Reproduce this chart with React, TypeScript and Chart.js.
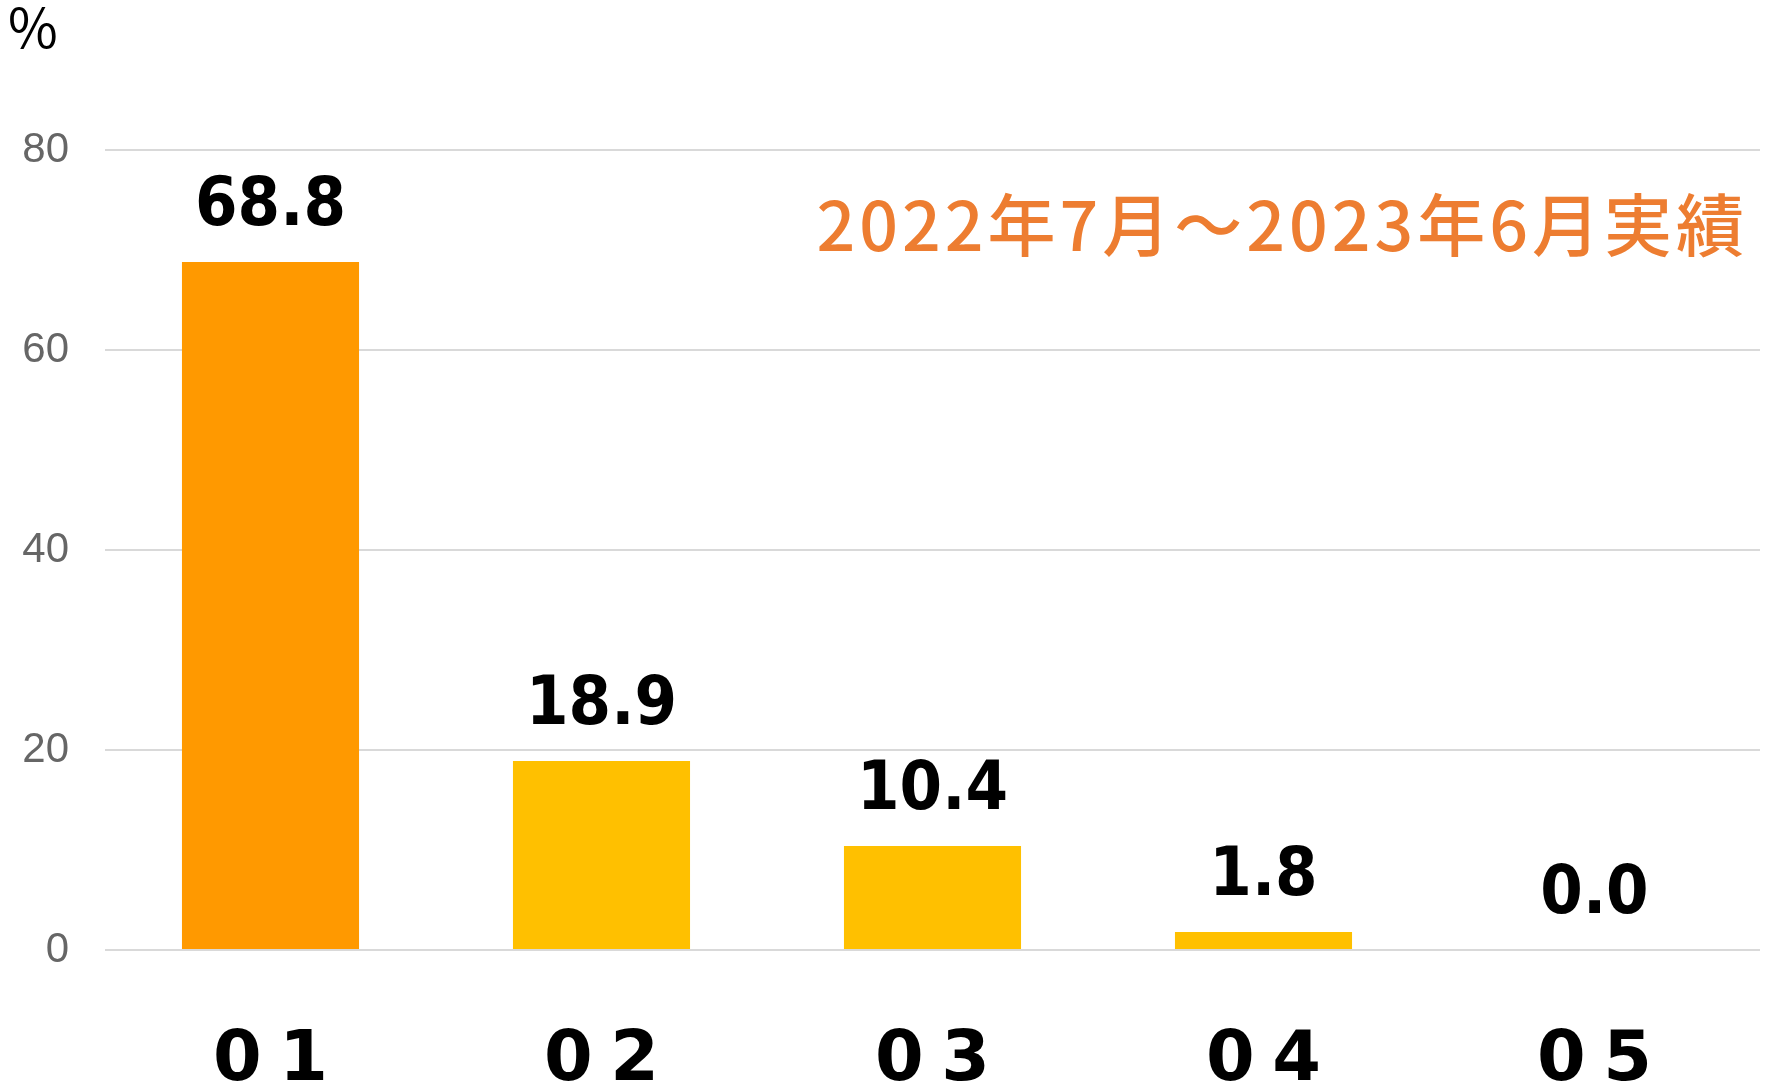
import React, { useEffect, useRef } from "react";
import { Chart, registerables } from "chart.js";

Chart.register(...registerables);

const categories = ["0\u20051", "0\u20052", "0\u20053", "0\u20054", "0\u20055"];
const values = [68.8, 18.9, 10.4, 1.8, 0.0];
const barColors = ["#FF9900", "#FFC000", "#FFC000", "#FFC000", "#FFC000"];
const yTicks = [0, 20, 40, 60, 80];
const unitLabel = "%";
const periodLabel = "2022年7月～2023年6月実績";

const valueLabels = {
  id: "valueLabels",
  afterDatasetsDraw(chart: any) {
    const ctx = chart.ctx;
    const meta = chart.getDatasetMeta(0);
    ctx.save();
    ctx.font = "condensed bold 68px 'DejaVu Sans', sans-serif";
    try {
      (ctx as any).fontStretch = "condensed";
    } catch (e) {}
    ctx.fillStyle = "#000000";
    ctx.textAlign = "center";
    ctx.textBaseline = "alphabetic";
    meta.data.forEach((bar: any, i: number) => {
      ctx.fillText(values[i].toFixed(1), bar.x, bar.y - 37);
    });
    ctx.restore();
  },
};

const headerTexts = {
  id: "headerTexts",
  afterDraw(chart: any) {
    const ctx = chart.ctx;
    ctx.save();
    ctx.fillStyle = "#000000";
    ctx.font = "54px 'Noto Sans CJK JP', 'Noto Sans', sans-serif";
    ctx.textAlign = "left";
    ctx.textBaseline = "alphabetic";
    ctx.fillText(unitLabel, 8, 48);
    ctx.fillStyle = "#ED7D31";
    ctx.font = "500 68px 'Noto Sans CJK JP', sans-serif";
    ctx.textAlign = "right";
    (ctx as any).letterSpacing = "4px";
    ctx.fillText(periodLabel, 1748, 251);
    ctx.restore();
  },
};

export default function App() {
  const ref = useRef<HTMLCanvasElement | null>(null);
  useEffect(() => {
    if (!ref.current) return;
    const chart = new Chart(ref.current, {
      type: "bar",
      data: {
        labels: categories,
        datasets: [
          {
            data: values,
            backgroundColor: barColors,
            borderWidth: 0,
            categoryPercentage: 1,
            barPercentage: 0.535,
          },
        ],
      },
      options: {
        responsive: false,
        animation: false,
        layout: { padding: { top: 150, right: 12, left: 0, bottom: 0 } },
        plugins: {
          legend: { display: false },
          tooltip: { enabled: false },
          title: { display: false },
        },
        scales: {
          x: {
            grid: { display: false, drawTicks: false },
            border: { display: false },
            ticks: {
              color: "#000000",
              padding: 70,
              font: { family: "'DejaVu Sans', sans-serif", size: 70, weight: "bold" },
            },
            afterFit(scale: any) {
              scale.height = 131;
            },
          },
          y: {
            min: 0,
            max: 80,
            grid: { color: "#D9D9D9", lineWidth: 2, drawTicks: false },
            border: { display: false },
            afterBuildTicks(scale: any) {
              scale.ticks = yTicks.map((v) => ({ value: v }));
            },
            ticks: {
              color: "#666666",
              padding: 36,
              font: { family: "'Liberation Sans', Arial, sans-serif", size: 42 },
            },
            afterFit(scale: any) {
              scale.width = 105;
            },
          },
        },
      },
      plugins: [valueLabels, headerTexts],
    });
    return () => chart.destroy();
  }, []);
  return (
    <canvas
      ref={ref}
      width={1772}
      height={1081}
      style={{ position: "absolute", left: 0, top: 0, display: "block", background: "#ffffff" }}
    />
  );
}
